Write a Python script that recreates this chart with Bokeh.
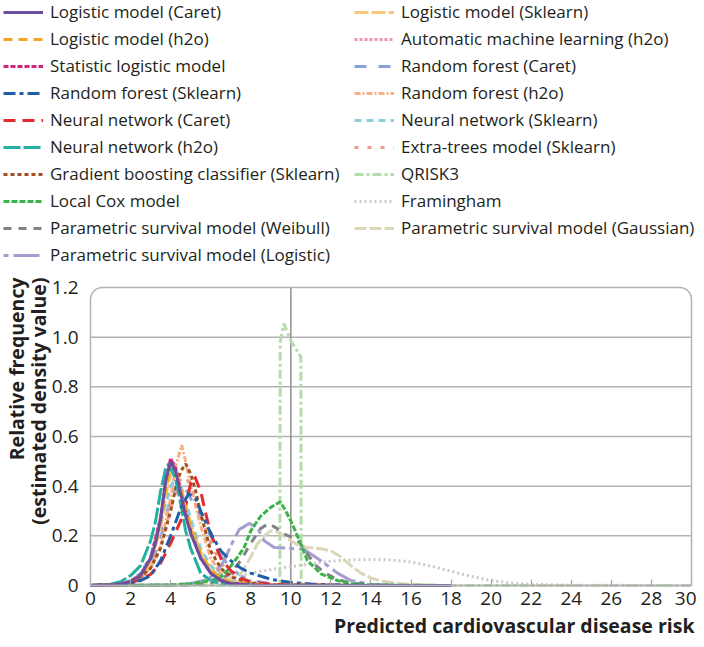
import math
from bokeh.plotting import figure
from bokeh.models import (Range1d, FixedTicker, Legend, LegendItem, BoxAnnotation, Label, LinearAxis)
from bokeh.embed import file_html
from bokeh.resources import INLINE

# ---------------- data ----------------
lr_caret_x = [0, 1, 1.5, 2, 2.5, 3, 3.25, 3.5, 3.75, 4, 4.25, 4.5, 4.75, 5, 5.5, 6, 6.5, 7, 8, 9, 18]
lr_caret_y = [0, 0.002, 0.006, 0.016, 0.04, 0.11, 0.17, 0.27, 0.42, 0.5, 0.46, 0.37, 0.28, 0.21, 0.11, 0.05, 0.02, 0.008, 0.002, 0, 0]

lr_h2o_x = [0, 1, 1.5, 2, 2.5, 3, 3.5, 3.75, 4.05, 4.25, 4.5, 5, 5.5, 6, 6.5, 7, 8, 9, 14]
lr_h2o_y = [0, 0.002, 0.006, 0.016, 0.04, 0.1, 0.25, 0.38, 0.49, 0.46, 0.39, 0.24, 0.13, 0.065, 0.03, 0.014, 0.004, 0.001, 0]

stat_lr_x = [0, 1, 1.5, 2, 2.5, 3, 3.5, 3.75, 4, 4.25, 4.5, 5, 5.5, 6, 6.5, 7, 8, 9, 16]
stat_lr_y = [0, 0.002, 0.006, 0.017, 0.045, 0.11, 0.27, 0.41, 0.51, 0.47, 0.38, 0.22, 0.11, 0.05, 0.022, 0.01, 0.003, 0.001, 0]

rf_sklearn_x = [0, 1.5, 2, 2.5, 3, 3.5, 4, 4.5, 4.9, 5.25, 5.5, 6, 6.5, 7, 7.5, 8, 9, 10, 11, 12, 13, 16]
rf_sklearn_y = [0, 0.004, 0.01, 0.02, 0.04, 0.1, 0.2, 0.31, 0.37, 0.35, 0.3, 0.21, 0.14, 0.1, 0.07, 0.05, 0.025, 0.012, 0.006, 0.003, 0.001, 0]

nn_caret_x = [0, 1.5, 2, 2.5, 3, 3.5, 4, 4.5, 4.75, 5, 5.2, 5.5, 5.75, 6, 6.5, 7, 7.5, 8, 9, 10, 14]
nn_caret_y = [0, 0.004, 0.01, 0.025, 0.045, 0.09, 0.17, 0.26, 0.32, 0.41, 0.44, 0.38, 0.29, 0.21, 0.11, 0.06, 0.03, 0.015, 0.005, 0.001, 0]

nn_h2o_x = [0, 1, 1.5, 2, 2.5, 3, 3.25, 3.5, 3.75, 3.9, 4.25, 4.5, 4.75, 5, 5.5, 6, 6.5, 7, 8, 12]
nn_h2o_y = [0, 0.005, 0.015, 0.04, 0.08, 0.18, 0.26, 0.38, 0.47, 0.49, 0.43, 0.33, 0.22, 0.15, 0.05, 0.02, 0.008, 0.003, 0.001, 0]

gb_sklearn_x = [0, 1.5, 2, 2.5, 3, 3.5, 4, 4.25, 4.5, 4.75, 5, 5.25, 5.5, 6, 6.5, 7, 8, 9, 14]
gb_sklearn_y = [0, 0.005, 0.015, 0.035, 0.07, 0.15, 0.3, 0.39, 0.46, 0.49, 0.45, 0.38, 0.29, 0.14, 0.07, 0.035, 0.01, 0.003, 0]

local_cox_x = [0, 4, 5, 6, 6.5, 6.83, 7.33, 7.67, 8, 8.5, 9, 9.47, 9.75, 10.08, 10.5, 10.83, 11.5, 12.33, 13, 14, 18]
local_cox_y = [0, 0.002, 0.007, 0.02, 0.035, 0.06, 0.113, 0.153, 0.22, 0.28, 0.315, 0.337, 0.3, 0.247, 0.167, 0.1, 0.047, 0.02, 0.007, 0.002, 0]

weibull_x = [0, 5, 6, 6.5, 7, 7.5, 8, 8.5, 8.9, 9.3, 9.67, 10.08, 10.42, 10.8, 11.2, 11.7, 12.3, 13, 14, 16]
weibull_y = [0, 0.002, 0.01, 0.025, 0.05, 0.1, 0.17, 0.23, 0.25, 0.23, 0.207, 0.193, 0.175, 0.13, 0.085, 0.05, 0.025, 0.01, 0.003, 0]

logistic_ps_x = [0, 4, 5, 5.67, 6, 6.33, 6.67, 7, 7.42, 7.92, 8.33, 8.67, 9.17, 9.83, 10.67, 11.5, 12.33, 13, 14, 15]
logistic_ps_y = [0, 0.002, 0.008, 0.02, 0.035, 0.06, 0.1, 0.16, 0.225, 0.25, 0.233, 0.18, 0.153, 0.15, 0.145, 0.1, 0.05, 0.02, 0.005, 0]

lr_sklearn_x = [0, 1, 1.5, 2, 2.5, 3, 3.5, 3.75, 4.1, 4.3, 4.5, 5, 5.5, 6, 6.5, 7, 8, 9, 16]
lr_sklearn_y = [0, 0.002, 0.005, 0.014, 0.035, 0.09, 0.23, 0.36, 0.48, 0.45, 0.4, 0.25, 0.135, 0.068, 0.032, 0.015, 0.004, 0.001, 0]

automl_x = [0, 1, 1.5, 2, 2.5, 3, 3.5, 3.75, 4, 4.25, 4.5, 5, 5.5, 6, 6.5, 7, 8, 9, 16]
automl_y = [0, 0.002, 0.006, 0.017, 0.045, 0.11, 0.28, 0.43, 0.515, 0.48, 0.38, 0.22, 0.11, 0.05, 0.022, 0.01, 0.003, 0.001, 0]

rf_caret_x = [0, 1.5, 2, 2.5, 3, 3.5, 4, 4.4, 4.75, 5, 5.5, 6, 6.5, 7, 7.5, 8, 9, 10, 11, 16]
rf_caret_y = [0, 0.004, 0.01, 0.03, 0.08, 0.19, 0.35, 0.42, 0.39, 0.35, 0.28, 0.2, 0.12, 0.07, 0.04, 0.02, 0.008, 0.003, 0.001, 0]

rf_h2o_x = [0, 1.5, 2, 2.5, 3, 3.5, 4, 4.25, 4.55, 4.75, 5, 5.5, 6, 6.5, 7, 8, 9, 18]
rf_h2o_y = [0, 0.004, 0.01, 0.03, 0.07, 0.16, 0.35, 0.48, 0.565, 0.5, 0.4, 0.24, 0.11, 0.05, 0.02, 0.005, 0.001, 0]

nn_sklearn_x = [0, 1.5, 2, 2.5, 3, 3.5, 4, 4.3, 4.6, 5, 5.5, 6, 6.5, 7, 8, 9, 16]
nn_sklearn_y = [0, 0.005, 0.02, 0.05, 0.12, 0.25, 0.4, 0.44, 0.38, 0.27, 0.15, 0.08, 0.04, 0.02, 0.005, 0.001, 0]

extra_trees_x = [0, 2, 2.5, 3, 3.5, 4, 4.5, 4.75, 5, 5.5, 6, 6.5, 7, 7.5, 8, 9, 10, 18]
extra_trees_y = [0, 0.01, 0.03, 0.07, 0.16, 0.31, 0.43, 0.44, 0.4, 0.28, 0.17, 0.09, 0.05, 0.025, 0.012, 0.004, 0.001, 0]

qrisk3_x = [0, 9.45, 9.47, 9.65, 10.0, 10.35, 10.5, 10.52, 30]
qrisk3_y = [0, 0, 0.98, 1.055, 0.985, 0.94, 0.92, 0, 0]

framingham_x = [0, 3, 4, 5, 6, 7, 8, 9, 10, 11, 12, 13, 14, 15, 16, 17, 18, 19, 20, 21, 22, 24, 30]
framingham_y = [0, 0, 0.003, 0.008, 0.017, 0.032, 0.05, 0.064, 0.076, 0.088, 0.098, 0.103, 0.105, 0.103, 0.095, 0.078, 0.058, 0.037, 0.02, 0.01, 0.005, 0.001, 0]

gaussian_ps_x = [0, 5, 6, 6.5, 7, 7.5, 8, 8.33, 8.67, 9.0, 9.4, 9.83, 10.3, 10.83, 11.5, 12.0, 12.5, 13.0, 13.5, 14, 14.5, 15.5, 17, 18]
gaussian_ps_y = [0, 0.002, 0.008, 0.015, 0.025, 0.047, 0.115, 0.167, 0.2, 0.22, 0.215, 0.19, 0.165, 0.153, 0.148, 0.14, 0.115, 0.08, 0.05, 0.03, 0.018, 0.007, 0.001, 0]

x_ticks = list(range(0, 31, 2))
y_ticks = [0, 0.2, 0.4, 0.6, 0.8, 1.0, 1.2]
y_tick_labels = ["0", "0.2", "0.4", "0.6", "0.8", "1.0", "1.2"]
x_marker_line = 10  # the darker vertical reference line

left_series = [
    ("Logistic model (Caret)", lr_caret_x, lr_caret_y, "#6b4e9f", "solid"),
    ("Logistic model (h2o)", lr_h2o_x, lr_h2o_y, "#f3a81f", "9 6"),
    ("Statistic logistic model", stat_lr_x, stat_lr_y, "#d4237d", "5 2"),
    ("Random forest (Sklearn)", rf_sklearn_x, rf_sklearn_y, "#1f5fa8", "12 4 4 4"),
    ("Neural network (Caret)", nn_caret_x, nn_caret_y, "#e22b2e", "12 7"),
    ("Neural network (h2o)", nn_h2o_x, nn_h2o_y, "#23b0a0", "17 3"),
    ("Gradient boosting classifier (Sklearn)", gb_sklearn_x, gb_sklearn_y, "#a0521e", "4 3"),
    ("Local Cox model", local_cox_x, local_cox_y, "#3ab54a", "6 2"),
    ("Parametric survival model (Weibull)", weibull_x, weibull_y, "#808285", "8 7"),
    ("Parametric survival model (Logistic)", logistic_ps_x, logistic_ps_y, "#a59dcf", "5 5 26 4"),
]
right_series = [
    ("Logistic model (Sklearn)", lr_sklearn_x, lr_sklearn_y, "#f9c87f", "14 3"),
    ("Automatic machine learning (h2o)", automl_x, automl_y, "#ee92b8", "3 2"),
    ("Random forest (Caret)", rf_caret_x, rf_caret_y, "#8aa3d6", "12 12"),
    ("Random forest (h2o)", rf_h2o_x, rf_h2o_y, "#f7b183", "6 2 2 2"),
    ("Neural network (Sklearn)", nn_sklearn_x, nn_sklearn_y, "#8fd0d8", "7 5"),
    ("Extra-trees model (Sklearn)", extra_trees_x, extra_trees_y, "#ef9a8d", "4 9"),
    ("QRISK3", qrisk3_x, qrisk3_y, "#b5dcaa", "9 3 3 3"),
    ("Framingham", framingham_x, framingham_y, "#c9c9c9", "2 3"),
    ("Parametric survival model (Gaussian)", gaussian_ps_x, gaussian_ps_y, "#dbd6b7", "12 3"),
]

FONT = "Open Sans"
TEXT = "#231f20"
GRID = "#b3b3b3"

# canvas geometry (pixels); the frame fills the whole canvas
W, H = 696, 639
PL, PR, PT, PB = 90, 691, 287, 585   # plot box edges on the canvas
xs_per_px = (x_ticks[-1] - x_ticks[0]) / (PR - PL)
ys_per_px = (y_ticks[-1] - y_ticks[0]) / (PB - PT)
x_rng = Range1d(x_ticks[0] - PL * xs_per_px, x_ticks[-1] + (W - PR) * xs_per_px)
y_rng = Range1d(y_ticks[0] - (H - PB) * ys_per_px, y_ticks[-1] + PT * ys_per_px)

p = figure(width=W, height=H, output_backend="svg", toolbar_location=None,
           x_range=x_rng, y_range=y_rng, x_axis_location=None, y_axis_location=None,
           min_border=0)
p.outline_line_color = None
p.background_fill_color = "white"
p.grid.visible = False

# grid lines inside the plot box
gy = y_ticks[1:-1]
p.segment(x0=[x_ticks[0]] * len(gy), x1=[x_ticks[-1]] * len(gy), y0=gy, y1=gy,
          line_color=GRID, line_width=1.5)
p.segment(x0=[x_marker_line], x1=[x_marker_line], y0=[y_ticks[0]], y1=[y_ticks[-1]],
          line_color="#8e8e8e", line_width=1.5)

# axes fixed on the plot box
xax = LinearAxis(fixed_location=y_ticks[0], bounds=(x_ticks[0], x_ticks[-1]))
xax.ticker = FixedTicker(ticks=x_ticks)
xax.axis_line_color = "#a8a8a8"
xax.axis_line_width = 1.5
xax.major_tick_in = 6
xax.major_tick_out = 0
xax.major_tick_line_color = "#a8a8a8"
xax.major_tick_line_width = 1.2
xax.minor_tick_line_color = None
xax.major_label_text_font = FONT
xax.major_label_text_font_size = "19px"
xax.major_label_text_color = TEXT
xax.major_label_standoff = 6
p.add_layout(xax, "below")

yax = LinearAxis(fixed_location=x_ticks[0], bounds=(y_ticks[0], y_ticks[-1]))
yax.ticker = FixedTicker(ticks=y_ticks)
yax.major_label_overrides = {t: l for t, l in zip(y_ticks, y_tick_labels)}
yax.axis_line_color = None
yax.major_tick_line_color = None
yax.minor_tick_line_color = None
yax.major_label_text_font = FONT
yax.major_label_text_font_size = "19px"
yax.major_label_text_color = TEXT
yax.major_label_standoff = 6
p.add_layout(yax, "left")

# plot box with rounded top corners
frame_box = BoxAnnotation(left=x_ticks[0], right=x_ticks[-1], bottom=y_ticks[0], top=y_ticks[-1],
                          fill_alpha=0, line_color=GRID, line_alpha=1.0, line_width=1.5,
                          border_radius=(12, 12, 0, 0))
p.add_layout(frame_box)

# draw: right-column series first, then left column in reverse so the solid
# purple logistic model ends on top (as in the reference)
renderers = {}
for name, xs, ys, color, dash in right_series + left_series[::-1]:
    renderers[name] = p.line(xs, ys, line_color=color, line_width=3, line_dash=dash)

left_items = [LegendItem(label=s[0], renderers=[renderers[s[0]]]) for s in left_series]
right_items = [LegendItem(label=s[0], renderers=[renderers[s[0]]]) for s in right_series]

ITEM_H, MEASURED_H, GAP = 20, 23, 4


def make_legend(items, x_left):
    h = len(items) * MEASURED_H + (len(items) - 1) * GAP
    return Legend(items=items, location=(x_left, H - h), orientation="vertical",
                  label_text_font=FONT, label_text_font_size="17px",
                  label_text_color=TEXT, glyph_width=40, glyph_height=ITEM_H,
                  label_height=ITEM_H, label_standoff=7, spacing=GAP, padding=0,
                  margin=0, border_line_color=None, background_fill_alpha=0)


p.add_layout(make_legend(left_items, 3))
p.add_layout(make_legend(right_items, 354))

# axis titles
p.add_layout(Label(x=694, y=H - 625, x_units="screen", y_units="screen",
                   text="Predicted cardiovascular disease risk", text_align="right",
                   text_baseline="middle", text_font=FONT, text_font_size="19.5px",
                   text_font_style="bold", text_color=TEXT))
p.add_layout(Label(x=16, y=H - 277, x_units="screen", y_units="screen", angle=math.pi / 2,
                   text="Relative frequency", text_align="right", text_baseline="middle",
                   text_font=FONT, text_font_size="19.5px", text_font_style="bold",
                   text_color=TEXT))
p.add_layout(Label(x=38, y=H - 277, x_units="screen", y_units="screen", angle=math.pi / 2,
                   text="(estimated density value)", text_align="right", text_baseline="middle",
                   text_font=FONT, text_font_size="19.5px", text_font_style="bold",
                   text_color=TEXT))

open("out.html", "w").write(file_html(p, INLINE))
